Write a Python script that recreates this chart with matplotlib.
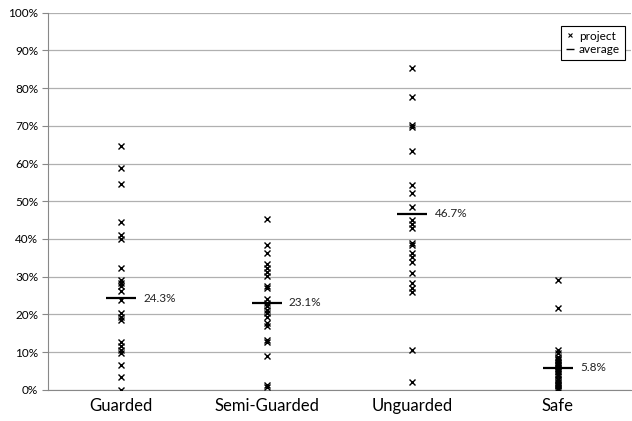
import matplotlib
matplotlib.use("Agg")
import matplotlib.pyplot as plt
from matplotlib.lines import Line2D
from matplotlib.ticker import PercentFormatter, MultipleLocator

plt.rcParams['font.family'] = ['Lato', 'DejaVu Sans']

categories = ["Guarded", "Semi-Guarded", "Unguarded", "Safe"]

# per-project percentages
guarded = [64.6, 58.7, 54.6, 44.4, 41.1, 39.9, 32.4, 29.1, 28.3, 27.4, 26.3,
           23.8, 20.5, 19.4, 18.5, 12.8, 11.5, 10.6, 9.7, 6.6, 3.4, 0.0]
semi_guarded = [45.3, 38.4, 36.2, 33.3, 32.4, 31.3, 30.2, 27.4, 27.1, 24.0,
                23.0, 22.1, 21.2, 20.3, 19.2, 17.8, 16.8, 13.2, 12.8, 9.1,
                1.3, 0.7]
unguarded = [85.2, 77.7, 70.2, 69.7, 63.3, 54.3, 52.1, 48.4, 45.0, 44.0, 42.8,
             39.0, 38.4, 36.2, 35.1, 34.0, 31.1, 28.3, 26.9, 26.0, 10.6, 2.0]
safe = [29.1, 21.6, 10.6, 9.7, 8.8, 8.2, 7.8, 7.4, 7.0, 6.6, 6.2, 5.8, 5.4,
        5.0, 4.6, 4.2, 3.6, 3.0, 2.6, 2.2, 1.8, 1.4, 1.0, 0.6, 0.3, 0.0]
series = [guarded, semi_guarded, unguarded, safe]

averages = [24.3, 23.1, 46.7, 5.8]

fig = plt.figure(figsize=(6.32, 4.21), dpi=100)
ax = fig.add_axes([0.076, 0.074, 0.922, 0.896])

for i, vals in enumerate(series):
    ax.plot([i] * len(vals), vals, linestyle='none', marker='x', markersize=4.5,
            markeredgewidth=1.0, color='black', zorder=3)

for i, avg in enumerate(averages):
    ax.plot(i, avg, marker='_', markersize=22, markeredgewidth=1.6,
            color='black', zorder=4)
    ax.annotate("%.1f%%" % avg, xy=(i, avg), xytext=(16, 0),
                textcoords='offset points', va='center', ha='left',
                fontsize=8.5, color='#222222')

ax.set_xlim(-0.5, 3.5)
ax.set_ylim(0, 100)
ax.yaxis.set_major_locator(MultipleLocator(10))
ax.yaxis.set_major_formatter(PercentFormatter(decimals=0))
ax.set_xticks(range(len(categories)))
ax.set_xticklabels(categories, fontsize=12)
ax.tick_params(axis='x', length=0, pad=6)
ax.tick_params(axis='y', labelsize=8.5, length=4, color='#888888', pad=3)

ax.grid(axis='y', color='#b0b0b0', linewidth=0.9)
ax.set_axisbelow(True)
for side in ['top', 'right']:
    ax.spines[side].set_visible(False)
ax.spines['left'].set_color('#888888')
ax.spines['bottom'].set_color('#888888')

handles = [Line2D([], [], linestyle='none', marker='x', markersize=3.5,
                  markeredgewidth=0.8, color='black'),
           Line2D([], [], linestyle='none', marker='_', markersize=6,
                  markeredgewidth=1.0, color='black')]
leg = ax.legend(handles, ['project', 'average'], loc='upper right',
                bbox_to_anchor=(0.99, 0.965), borderaxespad=0, fontsize=8.5,
                handlelength=0.6, handletextpad=0.5, borderpad=0.4,
                labelspacing=0.2, frameon=True, fancybox=False, framealpha=1)
leg.get_frame().set_edgecolor('black')
leg.get_frame().set_linewidth(0.8)

fig.savefig("out.png", dpi=100)
